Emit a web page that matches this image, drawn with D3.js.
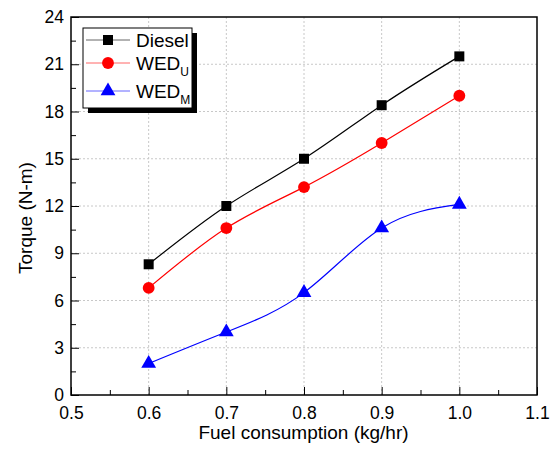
<!DOCTYPE html>
<html><head><meta charset="utf-8">
<script src="https://cdn.jsdelivr.net/npm/d3@7"></script>
<style>body{margin:0;background:#fff}svg{display:block}text{font-family:"Liberation Sans",Arial,sans-serif}</style>
</head><body>
<script>
const fuel = [0.6, 0.7, 0.8, 0.9, 1.0];
const diesel = [8.3, 12.0, 15.0, 18.4, 21.5];
const wedU = [6.8, 10.6, 13.2, 16.0, 19.0];
const wedM = [2.0, 4.0, 6.5, 10.6, 12.1];
const xTicks = [0.5, 0.6, 0.7, 0.8, 0.9, 1.0, 1.1];
const yTicks = [0, 3, 6, 9, 12, 15, 18, 21, 24];
const xTitle = "Fuel consumption (kg/hr)";
const yTitle = "Torque (N-m)";

const W = 557, H = 453;
const m = {l: 71, r: 537, t: 17, b: 395};
const svg = d3.select("body").append("svg").attr("width", W).attr("height", H);
const x = d3.scaleLinear().domain([0.5, 1.1]).range([m.l, m.r]);
const y = d3.scaleLinear().domain([0, 24]).range([m.b, m.t]);

// grid
const g = svg.append("g");
g.selectAll(".gx").data(xTicks.slice(1, -1)).enter().append("line")
  .attr("x1", d => x(d)).attr("x2", d => x(d)).attr("y1", m.t).attr("y2", m.b)
  .attr("stroke", "#c8c8c8").attr("stroke-dasharray", "2,2");
g.selectAll(".gy").data(yTicks.slice(1, -1)).enter().append("line")
  .attr("y1", d => y(d)).attr("y2", d => y(d)).attr("x1", m.l).attr("x2", m.r)
  .attr("stroke", "#c8c8c8").attr("stroke-dasharray", "2,2");

// axes
const xMinor = d3.range(0.55, 1.1, 0.1);
const yMinor = d3.range(1.5, 24, 3);
const xAxis = d3.axisBottom(x).tickValues(xTicks).tickFormat(d3.format(".1f")).tickSizeInner(-8).tickSizeOuter(0).tickPadding(12);
const yAxis = d3.axisLeft(y).tickValues(yTicks).tickFormat(d3.format("d")).tickSizeInner(-8).tickSizeOuter(0).tickPadding(7);
const gx = svg.append("g").attr("transform", `translate(0,${m.b})`).call(xAxis);
const gy = svg.append("g").attr("transform", `translate(${m.l},0)`).call(yAxis);
[gx, gy].forEach(a => {
  a.select(".domain").remove();
  a.selectAll("line").attr("stroke", "#000");
  a.selectAll("text").attr("font-size", 17.5).attr("fill", "#000").attr("font-family", '"Liberation Sans",Arial,sans-serif');
});
svg.append("g").attr("transform", `translate(0,${m.b})`)
  .call(d3.axisBottom(x).tickValues(xMinor).tickSizeInner(-5).tickSizeOuter(0).tickFormat(""))
  .call(a => { a.select(".domain").remove(); a.selectAll("line").attr("stroke", "#000"); });
svg.append("g").attr("transform", `translate(${m.l},0)`)
  .call(d3.axisLeft(y).tickValues(yMinor).tickSizeInner(-5).tickSizeOuter(0).tickFormat(""))
  .call(a => { a.select(".domain").remove(); a.selectAll("line").attr("stroke", "#000"); });

svg.append("rect").attr("x", m.l).attr("y", m.t).attr("width", m.r - m.l).attr("height", m.b - m.t)
  .attr("fill", "none").attr("stroke", "#000").attr("stroke-width", 1.5);

svg.append("text").attr("x", 303.5).attr("y", 439).attr("text-anchor", "middle")
  .attr("font-size", 19).text(xTitle);
svg.append("text").attr("transform", "translate(32,218) rotate(-90)").attr("text-anchor", "middle")
  .attr("font-size", 19).text(yTitle);

// series
const series = [
  {name: "Diesel", sub: "", vals: diesel, color: "#000000", shape: d3.symbolSquare, size: 100},
  {name: "WED", sub: "U", vals: wedU, color: "#ff0000", shape: d3.symbolCircle, size: 110},
  {name: "WED", sub: "M", vals: wedM, color: "#0000ff", shape: d3.symbolTriangle, size: 95}
];
const line = d3.line().x((d, i) => x(fuel[i])).y(d => y(d)).curve(d3.curveNatural);
series.forEach(s => {
  svg.append("path").attr("d", line(s.vals)).attr("fill", "none").attr("stroke", s.color).attr("stroke-width", 1.2);
  svg.selectAll(null).data(s.vals).enter().append("path")
    .attr("d", d3.symbol().type(s.shape).size(s.size))
    .attr("transform", (d, i) => `translate(${x(fuel[i])},${y(d)})`)
    .attr("fill", s.color);
});

// legend
const lg = svg.append("g");
lg.append("rect").attr("x", 88).attr("y", 33).attr("width", 109).attr("height", 80).attr("fill", "#000");
lg.append("rect").attr("x", 83).attr("y", 28).attr("width", 109).attr("height", 80).attr("fill", "#fff").attr("stroke", "#000").attr("stroke-width", 1);
const rowY = [40, 63, 91];
series.forEach((s, i) => {
  lg.append("line").attr("x1", 86).attr("x2", 130).attr("y1", rowY[i]).attr("y2", rowY[i])
    .attr("stroke", s.color).attr("stroke-width", 1).attr("stroke-opacity", 0.6);
  lg.append("path").attr("d", d3.symbol().type(s.shape).size(s.size)).attr("transform", `translate(108,${rowY[i]})`).attr("fill", s.color);
  const t = lg.append("text").attr("x", 136).attr("y", rowY[i] + 7).attr("font-size", 19).text(s.name);
  if (s.sub) t.append("tspan").attr("font-size", 12).attr("dy", 6).text(s.sub);
});
</script>
</body></html>
